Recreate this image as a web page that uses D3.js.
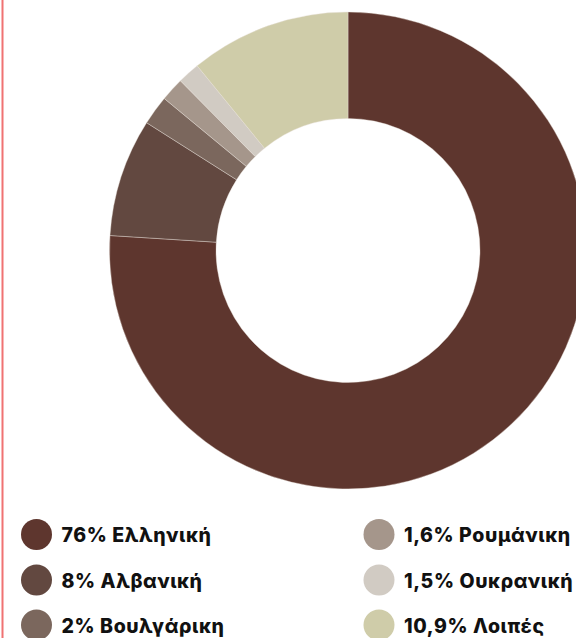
<!DOCTYPE html>
<html><head><meta charset="utf-8">
<script src="https://cdn.jsdelivr.net/npm/d3@7"></script>
<style>html,body{margin:0;padding:0;background:#fff;}</style>
</head><body>
<svg id="chart" width="576" height="638"></svg>
<script>
const categories = ["Ελληνική","Αλβανική","Βουλγάρικη","Ρουμάνικη","Ουκρανική","Λοιπές"];
const values = [76, 8, 2, 1.6, 1.5, 10.9];
const labels = ["76%","8%","2%","1,6%","1,5%","10,9%"];
const colors = ["#5e362e","#624840","#7b675d","#a5968b","#d1cbc3","#cfcca9"];

const svg = d3.select("#chart");
svg.append("line").attr("x1",2.5).attr("x2",2.5).attr("y1",0).attr("y2",638)
  .attr("stroke","#f07272").attr("stroke-width",2);

const cx = 348, cy = 250.5, rOuter = 238.5, rInner = 132;
const pie = d3.pie().sort(null).value(d=>d);
const arc = d3.arc().innerRadius(rInner).outerRadius(rOuter);
const g = svg.append("g").attr("transform",`translate(${cx},${cy})`);
g.selectAll("path").data(pie(values)).join("path")
  .attr("d",arc).attr("fill",(d,i)=>colors[i])
  .attr("stroke","#e8e0da").attr("stroke-width",0.4);

const legend = svg.append("g");
const colX = [36.5, 379];
const rowY = [534.5, 580, 625];
categories.forEach((c,i)=>{
  const col = Math.floor(i/3), row = i%3;
  const lg = legend.append("g").attr("transform",`translate(${colX[col]},${rowY[row]})`);
  lg.append("circle").attr("r",15.5).attr("fill",colors[i]);
  lg.append("text").attr("x",25).attr("y",7.5)
    .attr("font-family","Inter, 'Noto Sans', sans-serif").attr("font-weight",800)
    .attr("font-size","19.5px").attr("letter-spacing","0.6px").attr("fill","#111")
    .text(labels[i]+" "+c);
});
</script>
</body></html>
